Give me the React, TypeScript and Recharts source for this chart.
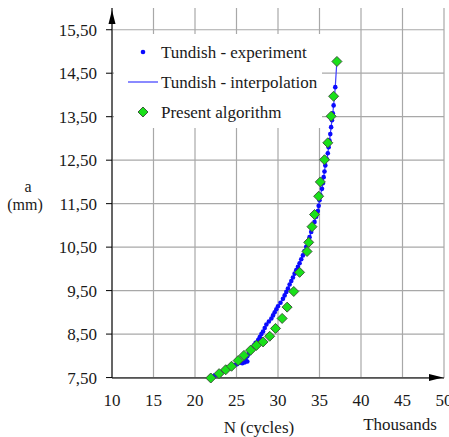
import {
  CartesianGrid,
  ComposedChart,
  ReferenceDot,
  Scatter,
  XAxis,
  YAxis,
} from "recharts";

const serif = "Liberation Serif, Times New Roman, serif";
const ink = "#1a1a1a";

// N in thousands of cycles, a in mm
const expN = [
  21.8, 22.1, 22.4, 22.7, 23.0, 23.3, 23.6, 23.9, 24.2, 24.5, 24.8, 25.1, 25.4, 25.7, 26.0, 26.3,
  26.1, 26.3, 26.5, 26.7, 26.9, 27.1, 27.3, 27.6, 27.8, 28.0, 28.2, 28.4, 28.6, 28.9, 29.2, 29.4,
  29.6, 29.8, 30.0, 30.3, 30.6, 30.8, 31.0, 31.2, 31.4, 31.6, 31.8, 32.0, 32.2, 32.4, 32.6, 32.8,
  33.0, 33.2, 33.4, 33.6, 33.8, 34.0, 34.2, 34.4, 34.6, 34.8, 34.9, 35.0, 35.1, 35.3, 35.4, 35.5,
  35.6, 35.7, 35.9, 36.0, 36.1, 36.2, 36.3, 36.4, 36.5, 36.6, 36.7, 36.8, 36.9, 37.1,
];
const expA = [
  7.49, 7.52, 7.55, 7.58, 7.6, 7.64, 7.67, 7.69, 7.73, 7.75, 7.79, 7.81, 7.84, 7.83, 7.85, 7.87,
  7.93, 7.99, 8.05, 8.12, 8.19, 8.24, 8.3, 8.36, 8.43, 8.5, 8.56, 8.64, 8.72, 8.79, 8.86, 8.93,
  9.0, 9.07, 9.14, 9.22, 9.31, 9.39, 9.47, 9.55, 9.64, 9.72, 9.8, 9.89, 9.97, 10.05, 10.13, 10.22,
  10.31, 10.41, 10.51, 10.62, 10.73, 10.85, 10.97, 11.08, 11.2, 11.33, 11.45, 11.58, 11.7, 11.84,
  11.97, 12.11, 12.24, 12.38, 12.52, 12.66, 12.8, 12.95, 13.1, 13.26, 13.42, 13.58, 13.76, 13.96,
  14.18, 14.8,
];

const algN = [
  21.9, 22.9, 23.7, 24.4, 25.2, 25.9, 26.7, 27.4, 28.2, 29.0, 29.7, 30.5, 31.1, 31.9, 32.6, 33.5,
  33.7, 34.1, 34.4, 34.9, 35.1, 35.6, 36.0, 36.4, 36.7, 37.1,
];
const algA = [
  7.49, 7.59, 7.68, 7.76, 7.89, 8.01, 8.13, 8.24, 8.32, 8.45, 8.63, 8.86, 9.12, 9.48, 9.92, 10.4,
  10.61, 10.97, 11.25, 11.67, 12.0, 12.51, 12.9, 13.51, 13.97, 14.77,
];

const xTicks = [10, 15, 20, 25, 30, 35, 40, 45, 50];
const yTicks = [7.5, 8.5, 9.5, 10.5, 11.5, 12.5, 13.5, 14.5, 15.5];

const experiment = expN.map((x, i) => ({ x, y: expA[i] }));
const algorithm = algN.map((x, i) => ({ x, y: algA[i] }));

const BLUE = "#0a0aff";
const LINE_BLUE = "#3c3cff";
const GREEN = "#19e019";

const Dot = (p: any) => <circle cx={p.cx} cy={p.cy} r={2.3} fill={BLUE} />;
const Diamond = (p: any) => {
  const s = 5;
  return (
    <polygon
      points={`${p.cx},${p.cy - s} ${p.cx + s},${p.cy} ${p.cx},${p.cy + s} ${p.cx - s},${p.cy}`}
      fill={GREEN}
      stroke="#3d5a3d"
      strokeWidth={1}
    />
  );
};
const Nothing = () => <g />;

// legend sits on a white box over the grid, top-left of the plot
function LegendBox() {
  const row = { display: "flex", alignItems: "center", height: 30 } as const;
  const sym = { width: 30, display: "flex", justifyContent: "center", marginRight: 3 } as const;
  return (
    <div
      style={{
        position: "absolute",
        left: 114,
        top: 34,
        background: "#fff",
        width: 208,
        height: 94,
        paddingTop: 3,
        paddingLeft: 14,
        boxSizing: "border-box",
        fontFamily: serif,
        fontSize: 17,
        color: ink,
        lineHeight: 1,
        whiteSpace: "nowrap",
      }}
    >
      <div style={row}>
        <div style={sym}>
          <svg width={8} height={8}><circle cx={4} cy={4} r={2.3} fill={BLUE} /></svg>
        </div>
        Tundish - experiment
      </div>
      <div style={row}>
        <div style={sym}>
          <svg width={30} height={4}><line x1={0} y1={2} x2={30} y2={2} stroke={LINE_BLUE} strokeWidth={1.2} /></svg>
        </div>
        Tundish - interpolation
      </div>
      <div style={row}>
        <div style={sym}>
          <svg width={12} height={12}>
            <polygon points="6,1 11,6 6,11 1,6" fill={GREEN} stroke="#3d5a3d" strokeWidth={1} />
          </svg>
        </div>
        Present algorithm
      </div>
    </div>
  );
}

export default function App() {
  return (
    <div style={{ position: "absolute", left: 0, top: 0, width: 449, height: 437, background: "#fff" }}>
      <ComposedChart width={449} height={437} margin={{ top: 8, right: 5, bottom: 0, left: 0 }}>
        <CartesianGrid stroke="#a8a8a8" strokeWidth={1.2} horizontalValues={yTicks} verticalValues={xTicks} />
        <XAxis
          type="number"
          dataKey="x"
          domain={[10, 50]}
          ticks={xTicks}
          interval={0}
          height={59}
          tickLine={false}
          tickMargin={10}
          axisLine={{ stroke: "#000", strokeWidth: 1 }}
          tick={{ fill: ink, fontSize: 17, fontFamily: serif }}
          label={{
            content: () => (
              <g fontFamily={serif} fontSize={17} fill={ink}>
                <text x={259} y={433} textAnchor="middle">N (cycles)</text>
                <text x={400} y={430} textAnchor="middle">Thousands</text>
              </g>
            ),
          }}
        />
        <YAxis
          type="number"
          dataKey="y"
          domain={[7.5, 16]}
          ticks={yTicks}
          interval={0}
          width={112}
          tickSize={6}
          tickMargin={9}
          tickLine={{ stroke: "#000" }}
          axisLine={{ stroke: "#000", strokeWidth: 1 }}
          tick={{ fill: ink, fontSize: 17, fontFamily: serif }}
          tickFormatter={(v: number) => v.toFixed(2).replace(".", ",")}
          label={{
            content: () => (
              <g fontFamily={serif} fontSize={16} fill={ink}>
                <text x={28} y={192} textAnchor="middle">a</text>
                <text x={25} y={210} textAnchor="middle">(mm)</text>
              </g>
            ),
          }}
        />
        <Scatter
          name="Tundish - interpolation"
          data={experiment}
          line={{ stroke: LINE_BLUE, strokeWidth: 1.2 }}
          shape={Nothing}
          isAnimationActive={false}
        />
        <Scatter name="Tundish - experiment" data={experiment} shape={Dot} isAnimationActive={false} />
        <Scatter name="Present algorithm" data={algorithm} shape={Diamond} isAnimationActive={false} />
        <ReferenceDot
          x={10}
          y={16}
          ifOverflow="visible"
          shape={(p: any) => (
            <path d={`M${p.cx},${p.cy + 2} L${p.cx - 3.5},${p.cy + 16} L${p.cx + 3.5},${p.cy + 16} Z`} fill="#000" />
          )}
        />
        <ReferenceDot
          x={50}
          y={7.5}
          ifOverflow="visible"
          shape={(p: any) => (
            <path d={`M${p.cx - 1},${p.cy} L${p.cx - 15},${p.cy - 3.5} L${p.cx - 15},${p.cy + 3.5} Z`} fill="#000" />
          )}
        />
      </ComposedChart>
      <LegendBox />
    </div>
  );
}
